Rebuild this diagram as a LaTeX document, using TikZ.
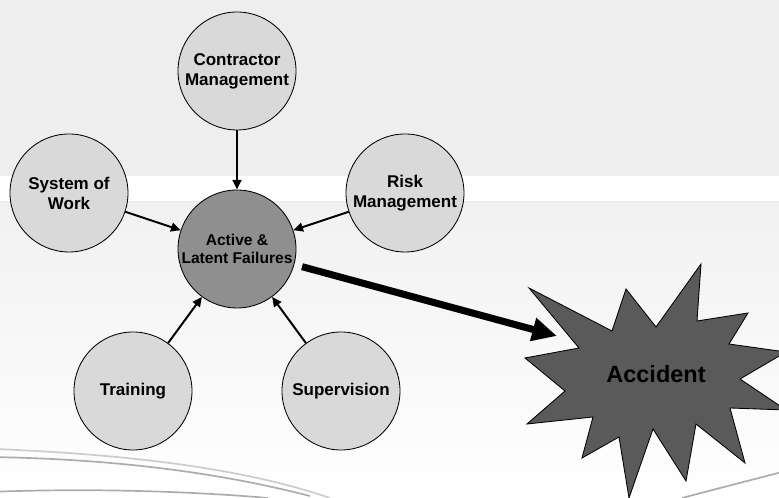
\documentclass[tikz,border=0pt]{standalone}
\usepackage{fontspec}
\setmainfont{Liberation Sans}
\usepackage{xcolor}
\usetikzlibrary{arrows.meta}

\definecolor{fondhaut}{HTML}{EEEEEE}
\definecolor{fondbas}{HTML}{F1F1F1}
\definecolor{bulle}{HTML}{D9D9D9}
\definecolor{centre}{HTML}{8F8F8F}
\definecolor{etoile}{HTML}{5A5A5A}

\begin{document}
\begin{tikzpicture}[
    cause/.style={circle, draw=black, line width=0.6pt, fill=bulle, minimum size=2.95cm,
        inner sep=0pt, align=center, font=\bfseries\fontsize{12.1}{14.2}\selectfont},
    defaut/.style={cause, fill=centre, font=\bfseries\fontsize{11.1}{12.8}\selectfont},
    fleche/.style={-{Triangle[length=0.24cm, width=0.22cm]}, line width=1.4pt},
    grosse/.style={-{Triangle[length=0.62cm, width=0.56cm]}, line width=5pt},
    vague/.style={gray!65, line width=1.2pt}
]

    % Cadre de la figure
    \useasboundingbox (0,0) rectangle (19.475,12.45);
    \clip (0,0) rectangle (19.475,12.45);

    % Fond : bande grise en haut, bande blanche, dégradé en bas
    \fill[fondhaut] (0,8.05) rectangle (19.475,12.45);
    \fill[white] (0,7.425) rectangle (19.475,8.05);
    \fill[top color=fondbas, bottom color=white] (0,0) rectangle (19.475,7.39);
    \draw[gray!15, line width=0.8pt] (0,7.4) -- (19.475,7.4);

    % Courbes décoratives en bas
    \draw[vague, gray!40] (0,1.22) .. controls (4,1.05) and (6.5,0.6) .. (8.25,0);
    \draw[vague] (0,1.02) .. controls (3.5,0.95) and (6,0.5) .. (7.75,0.05);
    \draw[vague] (0,0.16) .. controls (2.5,0.25) and (5,0.15) .. (6.7,0);
    \draw[vague] (17.05,0) .. controls (18,0.25) .. (19.475,0.63);

    % --- Les causes autour des défaillances ---
    \node[defaut] (AL) at (5.925,6.225) {Active \&\\Latent Failures};
    \node[cause] (CM) at (5.925,10.675) {Contractor\\Management};
    \node[cause] (SW) at (1.725,7.625) {System of\\Work};
    \node[cause] (RM) at (10.125,7.625) {Risk\\Management};
    \node[cause] (TR) at (3.325,2.675) {Training};
    \node[cause] (SU) at (8.525,2.675) {Supervision};

    \draw[fleche] (CM) -- (AL);
    \draw[fleche] (SW) -- (AL);
    \draw[fleche] (RM) -- (AL);
    \draw[fleche] (TR) -- (AL);
    \draw[fleche] (SU) -- (AL);

    % --- L'accident (étoile irrégulière) ---
    \filldraw[fill=etoile, draw=black, line width=0.6pt]
        (13.225,5.25) -- (15.3,4.175) -- (15.65,5.225) -- (16.4,4.275)
        -- (17.525,5.85) -- (17.425,4.425) -- (18.7,4.625) -- (18.225,3.85)
        -- (19.65,3.65) -- (18.5,2.975) -- (19.65,2.2) -- (18.25,2.25)
        -- (18.625,0.875) -- (17.4,1.85) -- (17.15,0.425) -- (16.325,1.725)
        -- (15.725,0) -- (15.475,1.525) -- (14.55,1) -- (14.825,2.025)
        -- (13.175,1.85) -- (14.125,2.675) -- (13.125,3.5) -- (14.475,3.75) -- cycle;
    \node[font=\bfseries\fontsize{16.7}{20}\selectfont] (ACC) at (16.4,3.1) {Accident};

    % Grosse flèche vers l'accident
    \coordinate (impact) at (13.925,4.05);
    \draw[grosse, shorten <=0.2cm] (AL) -- (impact);

\end{tikzpicture}
\end{document}
